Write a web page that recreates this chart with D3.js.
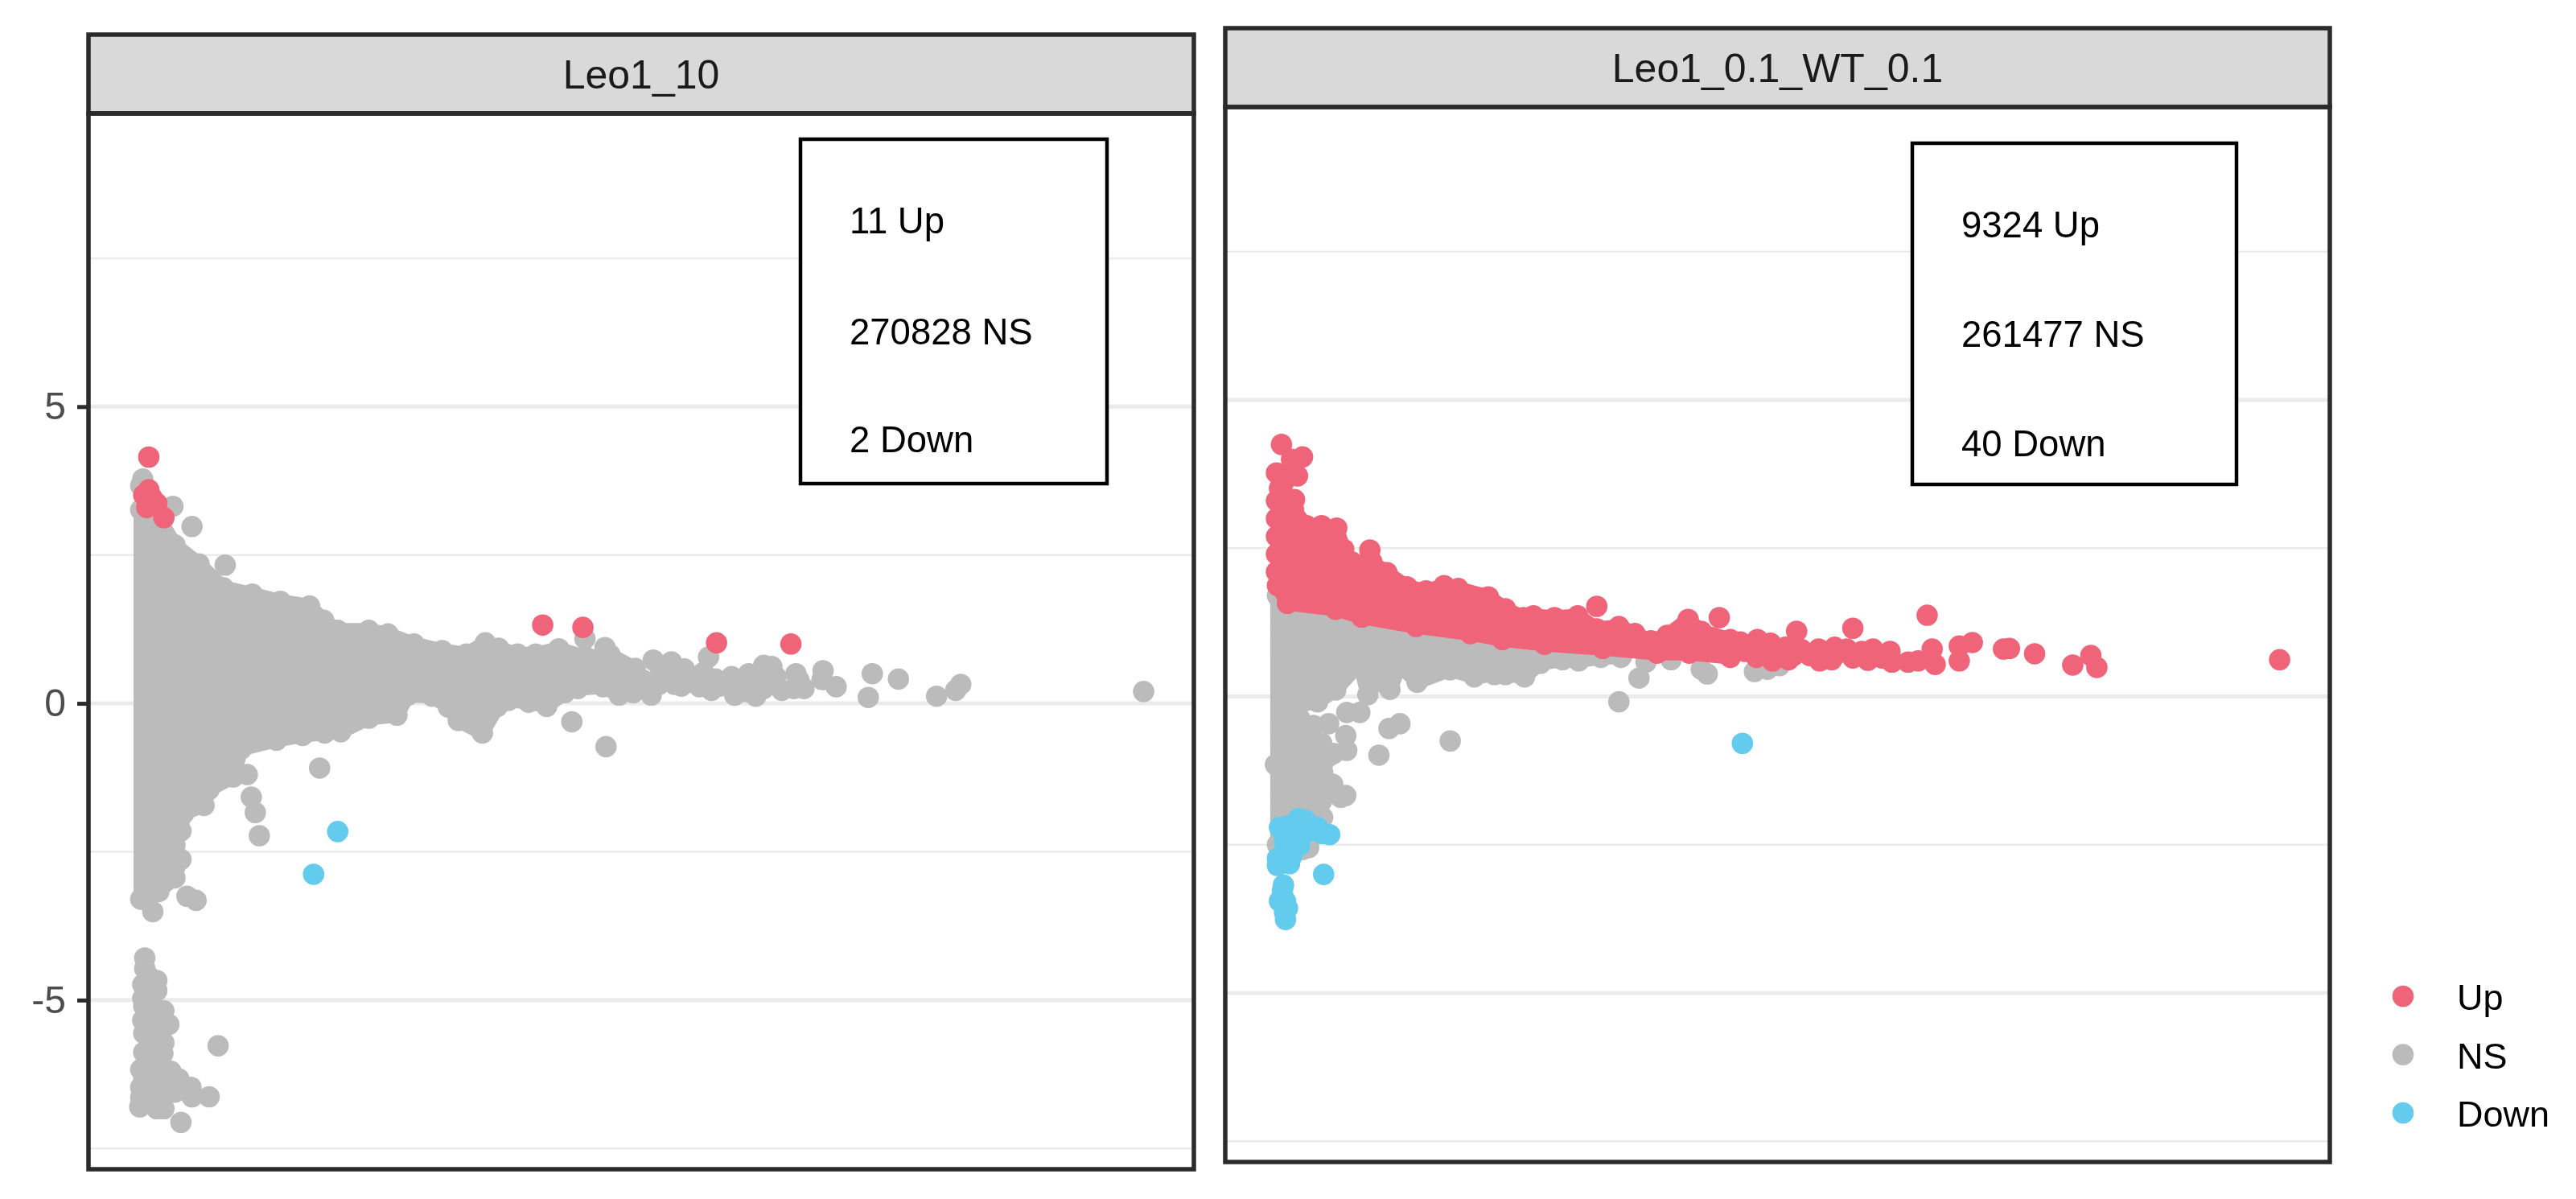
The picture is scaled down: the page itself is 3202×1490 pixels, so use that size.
<!DOCTYPE html>
<html><head><meta charset="utf-8">
<script src="https://cdn.jsdelivr.net/npm/d3@7"></script>
<style>
html,body{margin:0;padding:0;background:#fff}
svg{display:block;filter:blur(0.6px)}
text{font-family:"Liberation Sans",Arial,sans-serif}
</style></head><body>
<svg id="chart" width="3202" height="1490"></svg>
<script>
// ---------- labels ----------
const panelTitles = ["Leo1_10", "Leo1_0.1_WT_0.1"];
const leoCounts = ["11 Up", "270828 NS", "2 Down"];
const wtCounts = ["9324 Up", "261477 NS", "40 Down"];
const legendLabels = ["Up", "NS", "Down"];
const yTickValues = [-5, 0, 5];
const yGridValues = [-7.5, -5, -2.5, 0, 2.5, 5, 7.5];
const xDomain = [-5, 105];
const yDomain = [-7.85, 9.94];

// ---------- Leo1_10 : [x (unlabelled axis), y] ----------
const leoNsOutline = [[.2,3.26],[2.2,3.07],[3.6,2.67],[6,2.35],[8.4,1.95],[11.3,1.84],[14.1,1.72],[17,1.64],[18.4,1.4],[19.8,1.23],[22.9,1.23],[24.8,1.17],[27.4,1],[30.2,.89],[32.6,.83],[34.5,1.02],[35.8,.93],[37.7,.83],[39.5,.83],[41.8,.92],[44.6,.77],[46.9,.82],[49.4,.59],
[49.2,.18],[47.8,.14],[46.2,.28],[43.7,.25],[42.4,.18],[40.6,-.05],[38.8,.02],[36.8,.05],[35.7,-.05],[34.2,-.5],[31.8,-.29],[30.8,-.06],[29.2,.12],[26.8,.14],[25.7,-.2],[22.9,-.25],[20.1,-.48],[18.5,-.5],[16.3,-.54],[13.7,-.62],[10.2,-.77],[9.4,-1.24],[7,-1.45],[6.5,-1.72],[4.5,-1.85],[4.2,-2.15],[3.6,-2.39],[4.2,-2.63],[3.6,-2.94],[2,-3.17],[.4,-3.3],[.2,-3.3]];
const leoNsPoints = [[.4,3.78],[.2,3.67],[3.4,3.32],[5.3,2.98],[8.6,2.33],[25.2,1.04],[44.4,1.09],[46.4,.94],[43.1,-.31],[46.5,-.73],[18,-1.09],[10.8,-1.2],[11.2,-1.58],[11.6,-1.84],[12,-2.23],[4.8,-3.25],[5.7,-3.32],[1.4,-3.51],
[51.2,.73],[53,.7],[54.3,.58],[55.8,.36],[57.4,.41],[59,.45],[60.7,.5],[62.2,.64],[63,.62],[56.7,.78],[65.4,.5],[65.7,.39],[64,.22],[65.2,.25],[68.1,.55],[68,.4],[69.4,.28],[73,.5],[72.6,.1],[75.6,.41],[79.4,.12],[81.3,.22],[81.8,.32],[100,.2],
[51,.14],[53.3,.32],[54,.29],[55.8,.28],[57,.22],[59.3,.14],[61.4,.12],[50.2,.39],[51.8,.45],[54.2,.45],[56.2,.52],[58.2,.32],[60.2,.32],[61.8,.39],[62.6,.45],
[51.8,.32],[55,.39],[57.8,.29],[59.8,.39],[61,.32],[63.4,.45],[62.2,.25],[66.2,.25],[52.5,.5],[56.5,.3],[60.4,.2],
[.6,-4.29],[.6,-4.47],[1.8,-4.67],[.4,-4.74],[1.8,-4.84],[.4,-4.97],[2.5,-5.18],[1.4,-5.11],[.4,-5.34],[3,-5.41],[1.8,-5.41],[2.5,-5.72],[1.4,-5.65],[.5,-5.56],[.5,-5.88],[1.6,-6.06],[.2,-6.17],[4,-6.33],[5.2,-6.47],[7,-6.63],[5.3,-6.63],[.2,-6.47],[.2,-6.64],[.1,-6.8],[1.8,-6.83],[2.5,-6.83],[2.2,-6.47],[1.4,-6.29],[3,-6.47],[1,-5.92],[1.4,-6.6],[4.2,-7.06],[7.9,-5.77],[.5,-5.1],[.5,-6.3],
[1,-4.6],[1,-4.9],[1,-5.2],[1.5,-5.4],[1.2,-5.8],[2.4,-5.9],[1.6,-6.2],[2.4,-6.15],[3.2,-6.2],[.9,-6.45],[2.4,-6.6],[.9,-6.7],[3.6,-6.55]];
const leoUpPoints = [[1,4.15],[1,3.6],[.5,3.51],[1.3,3.47],[1.8,3.37],[.8,3.3],[2.5,3.13],[40.2,1.32],[44.2,1.28],[57.5,1.02],[64.9,1]];
const leoDownPoints = [[19.8,-2.16],[17.4,-2.88]];

// ---------- Leo1_0.1_WT_0.1 : [x (unlabelled axis), y] ----------
const wtNsOutline = [[.2,1.7],[9.2,1.3],[25.2,.95],[34,.85],[34.4,.66],[32.4,.66],[30.2,.6],[28.6,.62],[26.4,.56],[24.8,.33],[22.9,.37],[21.8,.37],[19.8,.33],[17.4,.45],[14.1,.24],[12.4,.52],[11.4,.12],[9.4,.27],[9.2,.03],[8.4,.56],[6,.11],[4.2,-.09],[2.2,-.15],[2.4,-.37],[4.6,-.79],[5.4,-1],[4.7,-1.28],[5.7,-1.48],[4.6,-1.76],[4.7,-2.04],[3.3,-2.55],[.2,-2.5]];
const wtNsPoints = [[0,-1.15],[5.3,-.46],[3.8,-.49],[7,-.66],[7.1,-.91],[5.8,-.96],[10.3,-.99],[11.3,-.54],[12.4,-.46],[17.4,-.75],[7.1,-.27],[8.4,-.27],[7,-1.67],[6.5,-1.7],[2.7,-2.58],[36.2,.31],[34.2,-.09],[43,.38],[42.4,.46],[47.7,.42],[49,.46],[36.9,.58],[39.4,.62],[34.5,.69],[50.2,.52]];
const wtUpOutline = [[.4,3.51],[1.8,3.15],[3.1,2.88],[4.6,2.88],[6.1,2.84],[6.8,2.48],[7.6,2.27],[9.6,2.27],[11.1,2.09],[13.1,1.85],[15,1.78],[16.8,1.87],[18.2,1.82],[21.2,1.68],[22.9,1.48],[24.7,1.33],[25.7,1.36],[27.8,1.33],[30.1,1.36],[32,1.14],[34.2,1.18],[35.8,1.06],[37.4,.94],[39,1.03],[41.1,1.3],[42.4,1.1],[45.3,.96],
[45.3,.66],[41.2,.73],[38,.73],[32.6,.81],[26.8,.88],[22.6,.96],[19.4,1.06],[14,1.18],[8.6,1.34],[6,1.47],[1.2,1.57],[.2,1.87]];
const wtUpPoints = [[.6,4.25],[2.7,4.04],[1.6,4],[.1,3.77],[2.2,3.72],[1.2,3.75],[1.9,3.32],[.8,3.61],[1.2,3.34],[.1,3.3],[.1,3],[.1,2.7],[.1,2.4],[.1,2.1],[9.4,2.47],[32,1.52],[44.2,1.33],[46.3,.92],[48,.96],[49.3,.9],[51.9,1.1],[51.1,.62],[49.5,.6],[47.9,.66],[50.8,.83],[52.4,.79],[51.6,.69],[46.8,.76],[49.2,.76],[54.1,.8],[54.2,.6],[55.7,.83],[55.4,.62],[57.5,1.15],[56.9,.8],[57.5,.65],[59.5,.8],[59,.61],[61.2,.76],[61.4,.58],[63,.58],[64,.6],[64.9,1.37],[65.4,.8],[65.7,.54],[68.1,.85],[68.1,.6],[69.4,.91],[72.5,.8],[73.1,.81],[75.6,.72],[79.4,.53],[81.2,.69],[81.8,.49],[100,.62],[60.4,.65],[58.4,.76],[56,.73],[53.2,.69]];
const wtDownPoints = [[.4,-2.21],[2.3,-2.06],[3,-2.09],[4.2,-2.21],[5.4,-2.33],[4.6,-2.31],[1.8,-2.31],[.9,-2.43],[2.4,-2.51],[2.1,-2.36],[.2,-2.73],[1.4,-2.82],[.2,-2.85],[.9,-2.61],[1.6,-2.7],[.8,-3.18],[.4,-3.45],[1,-3.45],[.9,-3.64],[1,-3.76],[4.8,-3],[1.3,-2.18],[3.3,-2.27],[.7,-3.27],[1.2,-3.57],[46.5,-.79]];

// ---------- style ----------
const colorUp = "#F0647A", colorNs = "#BBBBBB", colorDown = "#62CBEE";
const frame = "#2B2B2B", R = 13.3;

const svg = d3.select("#chart");

function panel(cfg) {
  const g = svg.append("g");
  const x = d3.scaleLinear().domain(xDomain).range([cfg.left, cfg.right]);
  const y = d3.scaleLinear().domain(yDomain).range([cfg.bottom, cfg.stripBottom]);

  g.selectAll("line.grid").data(yGridValues).join("line").attr("class", "grid")
    .attr("x1", cfg.left).attr("x2", cfg.right)
    .attr("y1", d => y(d)).attr("y2", d => y(d))
    .attr("stroke", "#EBEBEB")
    .attr("stroke-width", d => d % 5 === 0 ? 5 : 2.6);

  const line = d3.line().x(d => x(d[0])).y(d => y(d[1])).curve(d3.curveLinearClosed);
  const blob = (pts, c) => g.append("path").attr("d", line(pts)).attr("fill", c)
    .attr("stroke", c).attr("stroke-width", 18).attr("stroke-linejoin", "round");
  const dots = (pts, c) => g.append("g").selectAll("circle").data(pts).join("circle")
    .attr("cx", d => x(d[0])).attr("cy", d => y(d[1])).attr("r", R).attr("fill", c);

  blob(cfg.nsOutline, colorNs);
  dots(cfg.nsOutline, colorNs);
  dots(cfg.nsPoints, colorNs);
  if (cfg.upOutline) { blob(cfg.upOutline, colorUp); dots(cfg.upOutline, colorUp); }
  dots(cfg.upPoints, colorUp);
  dots(cfg.downPoints, colorDown);

  // count box
  g.append("rect").attr("x", cfg.box[0]).attr("y", cfg.box[1])
    .attr("width", cfg.box[2] - cfg.box[0]).attr("height", cfg.box[3] - cfg.box[1])
    .attr("fill", "#fff").attr("stroke", "#000").attr("stroke-width", 4.5);
  g.selectAll("text.count").data(cfg.counts).join("text").attr("class", "count")
    .attr("x", cfg.textX).attr("y", (d, i) => cfg.textY[i])
    .attr("font-size", 45.5).attr("fill", "#000").text(d => d);

  // strip
  g.append("rect").attr("x", cfg.left).attr("y", cfg.top)
    .attr("width", cfg.right - cfg.left).attr("height", cfg.stripBottom - cfg.top)
    .attr("fill", "#D9D9D9").attr("stroke", frame).attr("stroke-width", 5.5);
  g.append("text").attr("x", (cfg.left + cfg.right) / 2).attr("y", cfg.titleY)
    .attr("text-anchor", "middle").attr("font-size", 50).attr("fill", "#1A1A1A").text(cfg.title);
  // panel border
  g.append("rect").attr("x", cfg.left).attr("y", cfg.stripBottom)
    .attr("width", cfg.right - cfg.left).attr("height", cfg.bottom - cfg.stripBottom)
    .attr("fill", "none").attr("stroke", frame).attr("stroke-width", 5.5);

  if (cfg.axis) {
    const ax = g.append("g").attr("transform", `translate(${cfg.left},0)`)
      .call(d3.axisLeft(y).tickValues(yTickValues).tickSize(14).tickPadding(14).tickFormat(d => String(d)));
    ax.select(".domain").remove();
    ax.selectAll("line").attr("stroke", frame).attr("stroke-width", 5);
    ax.selectAll("text").attr("font-size", 48).attr("fill", "#4D4D4D")
      .attr("font-family", '"Liberation Sans",Arial,sans-serif');
  }
}

panel({ left: 110, right: 1484, top: 43, stripBottom: 141, bottom: 1453, title: panelTitles[0], titleY: 110,
  nsOutline: leoNsOutline, nsPoints: leoNsPoints, upPoints: leoUpPoints, downPoints: leoDownPoints,
  box: [995, 173, 1376, 601], counts: leoCounts, textX: 1056, textY: [290, 428, 562], axis: true });
panel({ left: 1523, right: 2896, top: 35, stripBottom: 133, bottom: 1444, title: panelTitles[1], titleY: 102,
  nsOutline: wtNsOutline, nsPoints: wtNsPoints, upOutline: wtUpOutline, upPoints: wtUpPoints, downPoints: wtDownPoints,
  box: [2377, 178, 2780, 602], counts: wtCounts, textX: 2438, textY: [295, 431, 567], axis: false });

// legend
const legendColor = d3.scaleOrdinal().domain(legendLabels).range([colorUp, colorNs, colorDown]);
const legendY = d3.scalePoint().domain(legendLabels).range([1238, 1383]);
const lg = svg.append("g");
lg.selectAll("circle").data(legendLabels).join("circle")
  .attr("cx", 2987).attr("cy", d => legendY(d)).attr("r", R).attr("fill", d => legendColor(d));
lg.selectAll("text").data(legendLabels).join("text")
  .attr("x", 3054).attr("y", d => legendY(d) + 17).attr("font-size", 45).attr("fill", "#000").text(d => d);
</script>
</body></html>
